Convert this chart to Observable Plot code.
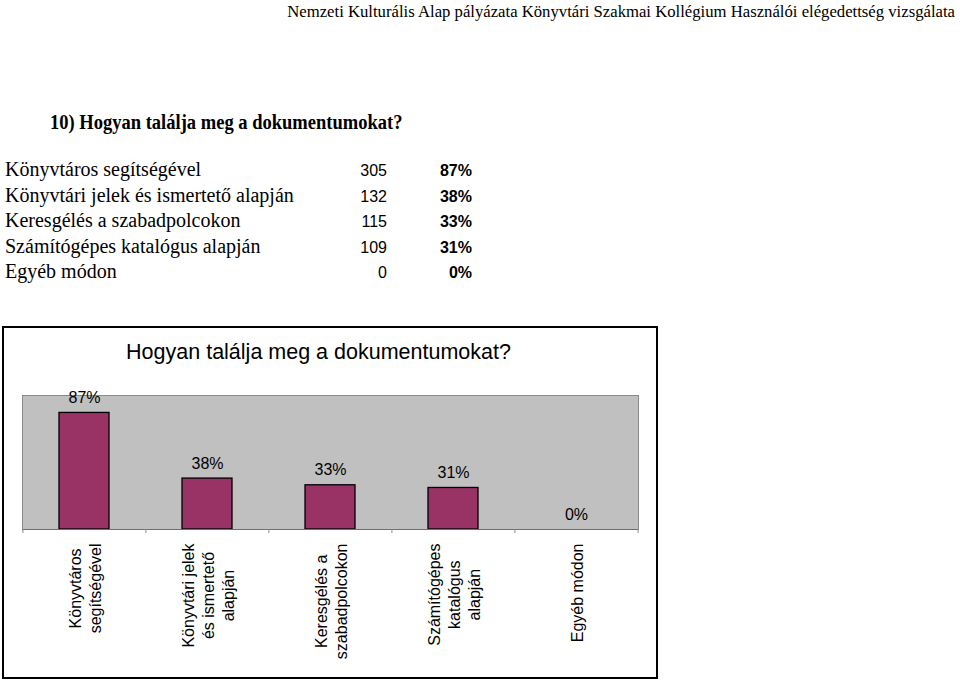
<!DOCTYPE html>
<html>
<head>
<meta charset="utf-8">
<script src="https://cdn.jsdelivr.net/npm/d3@7"></script>
<script src="https://cdn.jsdelivr.net/npm/@observablehq/plot@0.6"></script>
<style>
  body { margin: 0; background: #fff; }
  #page { position: relative; width: 960px; height: 682px; overflow: hidden; background: #fff; }
  #header { position: absolute; right: 5px; top: 2px; font: 16.7px "Liberation Serif", serif; white-space: nowrap; color: #000; }
  #qtitle { position: absolute; left: 50px; top: 111px; font: bold 20px "Liberation Serif", serif; white-space: nowrap; transform: scaleX(0.926); transform-origin: 0 0; }
  #table { position: absolute; left: 5px; top: 158px; }
  .row { height: 25.6px; line-height: 25.6px; white-space: nowrap; }
  .lab { display: inline-block; width: 330px; font: 20px "Liberation Serif", serif; }
  .cnt { display: inline-block; width: 52px; text-align: right; font: 16px "Liberation Sans", Arial, sans-serif; }
  .pct { display: inline-block; width: 85px; text-align: right; font: bold 16px "Liberation Sans", Arial, sans-serif; }
  #box { position: absolute; left: 2px; top: 326px; width: 652px; height: 349px; border: 2px solid #000; background: #fff; }
  #ctitle { position: absolute; left: 0; top: 14px; width: 629px; text-align: center; font: 21.5px "Liberation Sans", Arial, sans-serif; line-height: 1; white-space: nowrap; }
  #chart { position: absolute; left: 0; top: 0; }
</style>
</head>
<body>
<div id="page">
  <div id="header"></div>
  <div id="qtitle"></div>
  <div id="table"></div>
  <div id="box">
    <div id="ctitle"></div>
    <div id="chart"></div>
  </div>
</div>
<script>
const headerText = "Nemzeti Kulturális Alap pályázata Könyvtári Szakmai Kollégium Használói elégedettség vizsgálata";
const questionTitle = "10) Hogyan találja meg a dokumentumokat?";
const chartTitle = "Hogyan találja meg a dokumentumokat?";
const categories = [
  "Könyvtáros segítségével",
  "Könyvtári jelek és ismertető alapján",
  "Keresgélés a szabadpolcokon",
  "Számítógépes katalógus alapján",
  "Egyéb módon"
];
const axisLabels = [
  "Könyvtáros\nsegítségével",
  "Könyvtári jelek\nés ismertető\nalapján",
  "Keresgélés a\nszabadpolcokon",
  "Számítógépes\nkatalógus\nalapján",
  "Egyéb módon"
];
const counts = [305, 132, 115, 109, 0];
const percents = [87, 38, 33, 31, 0];

document.getElementById("header").textContent = headerText;
document.getElementById("qtitle").textContent = questionTitle;
document.getElementById("ctitle").textContent = chartTitle;

const table = document.getElementById("table");
categories.forEach((c, i) => {
  const row = document.createElement("div");
  row.className = "row";
  const a = document.createElement("span"); a.className = "lab"; a.textContent = c;
  const b = document.createElement("span"); b.className = "cnt"; b.textContent = counts[i];
  const p = document.createElement("span"); p.className = "pct"; p.textContent = percents[i] + "%";
  row.append(a, b, p);
  table.append(row);
});

const data = categories.map((c, i) => ({cat: c, label: axisLabels[i], pct: percents[i]}));

const W = 652, H = 349, mL = 18, mR = 18, mT = 67, mB = 148;
const step = (W - mL - mR) / categories.length;
const font = '"Liberation Sans", Arial, sans-serif';

const chart = Plot.plot({
  width: W,
  height: H,
  marginLeft: mL,
  marginRight: mR,
  marginTop: mT,
  marginBottom: mB,
  style: {fontFamily: font, fontSize: "16px", background: "transparent", color: "#000"},
  x: {domain: categories, paddingInner: 0.594, paddingOuter: 0.297, label: null, axis: null},
  y: {domain: [0, 100], axis: null},
  marks: [
    Plot.frame({fill: "#c0c0c0", stroke: "#8a8a8a", strokeWidth: 1}),
    Plot.barY(data, {x: "cat", y: "pct", fill: "#993366", stroke: "#000", strokeWidth: 1.3}),
    Plot.ruleY([0], {stroke: "#6e6e6e", strokeWidth: 1.2}),
    Plot.ruleX(data, {x: "cat", y1: 0, y2: -3, dx: -step / 2, stroke: "#8a8a8a"}),
    Plot.ruleX(data.slice(-1), {x: "cat", y1: 0, y2: -3, dx: step / 2, stroke: "#8a8a8a"}),
    Plot.text(data, {x: "cat", y: "pct", text: d => d.pct + "%", dy: -15, lineAnchor: "middle", fontSize: 16, fill: "#000"}),
    Plot.axisX({
      tickSize: 0, tickPadding: 14, tickRotate: -90, fontSize: 16, lineHeight: 1.25,
      tickFormat: c => axisLabels[categories.indexOf(c)], label: null
    })
  ]
});
document.getElementById("chart").append(chart);

// center the lines of each multi-line rotated label on its longest line
chart.querySelectorAll('g[aria-label="x-axis tick label"] text').forEach(t => {
  const spans = t.querySelectorAll("tspan");
  const lens = spans.length ? Array.from(spans, s => s.getComputedTextLength()) : [t.getComputedTextLength()];
  const maxW = Math.max(...lens);
  t.setAttribute("text-anchor", "middle");
  t.style.textAnchor = "middle";
  if (spans.length) spans.forEach(s => s.setAttribute("x", -maxW / 2));
  else t.setAttribute("x", -maxW / 2);
});
</script>
</body>
</html>
